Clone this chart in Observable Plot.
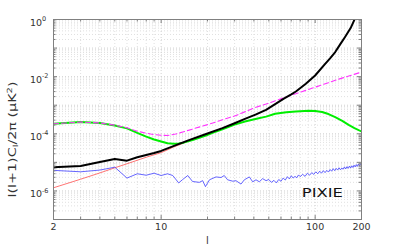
<!DOCTYPE html>
<html><head><meta charset="utf-8">
<script src="https://cdn.jsdelivr.net/npm/d3@7"></script>
<script src="https://cdn.jsdelivr.net/npm/@observablehq/plot@0.6"></script>
<style>body{margin:0;background:#fff}</style>
</head><body><div id="chart"></div>
<script>
// ---- data (log10 of l(l+1)C_l/2pi in uK^2) ----
const blackL   = [2,3,4,5,6,7,8,9,10,12,15,20,25,30,35,41,48,55,63,70,75,87,100,115,125,135,145,156,170,181,190,200];
const blackLog = [-5.17,-5.13,-4.99,-4.88,-4.94,-4.82,-4.74,-4.67,-4.60,-4.43,-4.23,-3.99,-3.80,-3.63,-3.48,-3.33,-3.16,-2.96,-2.76,-2.62,-2.52,-2.25,-1.96,-1.58,-1.36,-1.14,-0.88,-0.62,-0.30,0.02,0.22,0.45];

const greenL   = [2,3,4,5,6,7,8,9,10,11,12,13,14,16,19.5,22,25,30,35,41,48,55,65,75,91,100,111,122,135,150,165,180,200];
const greenLog = [-3.65,-3.59,-3.62,-3.71,-3.81,-3.97,-4.10,-4.20,-4.27,-4.33,-4.35,-4.34,-4.31,-4.22,-4.06,-3.95,-3.84,-3.68,-3.57,-3.48,-3.40,-3.30,-3.25,-3.22,-3.19,-3.20,-3.24,-3.31,-3.42,-3.55,-3.69,-3.80,-3.92];

const magentaL   = [2,3,4,5,6,7,8,9,10,11,12.4,14,16.8,20,25,30,41.3,48,70,100,140,200];
const magentaLog = [-3.65,-3.59,-3.62,-3.70,-3.79,-3.91,-3.98,-4.03,-4.05,-4.06,-4.01,-3.93,-3.80,-3.68,-3.51,-3.38,-3.07,-2.96,-2.65,-2.37,-2.10,-1.84];

const redL   = [2,3,4,5,6,8,10,12,15,20];
const redLog = [-5.89,-5.59,-5.37,-5.19,-5.05,-4.82,-4.66,-4.47,-4.26,-4.00];

const blueL = [2,3,4,5,6,7,8,9,10,11,11.9,13,13.8,14.9,16,17.7,18.6,19.4,20.6,22.7,24.5,25.7,27,29.2,30.6,33,34.7,37.4,39.3,41.3,43.4,45.6,48,
  50,52,54,56,58,60,62,64,66,68,70,72,74,76,78,80,83,86,89,92,95,98,101,104,107,110,113,116,119,122,125,128,131,134,137,140,143,146,149,152,155,158,161,164,167,170,173,176,179,182,185,188,191,194,197,200];
const blueLog = [-5.28,-5.33,-5.27,-5.17,-5.55,-5.40,-5.45,-5.38,-5.46,-5.40,-5.46,-5.72,-5.60,-5.46,-5.67,-5.70,-5.64,-5.85,-5.61,-5.51,-5.53,-5.46,-5.61,-5.66,-5.64,-5.76,-5.61,-5.51,-5.68,-5.61,-5.68,-5.57,-5.64,
  -5.60,-5.70,-5.63,-5.72,-5.60,-5.66,-5.55,-5.62,-5.50,-5.58,-5.47,-5.55,-5.49,-5.54,-5.44,-5.50,-5.42,-5.49,-5.38,-5.45,-5.36,-5.42,-5.33,-5.40,-5.31,-5.38,-5.29,-5.36,-5.28,-5.34,-5.25,-5.31,-5.22,-5.29,-5.21,-5.27,-5.19,-5.26,-5.20,-5.24,-5.16,-5.23,-5.15,-5.21,-5.13,-5.20,-5.12,-5.18,-5.10,-5.16,-5.08,-5.14,-5.06,-5.12,-5.05,-5.09];

// ---- ticks / labels ----
const xLabels = [2,10,100,200];
const xMajor = [10,100];
const xMinor = [2,3,4,5,6,7,8,9,20,30,40,50,60,70,80,90,200];
const decades = [1e-7,1e-6,1e-5,1e-4,1e-3,1e-2,1e-1];
const yMajor = [1e-7,1e-6,1e-5,1e-4,1e-3,1e-2,1e-1,1];
const yMinor = decades.flatMap(d => [2,3,4,5,6,7,8,9].map(m => m*d));
const yLabelVals = [1,1e-2,1e-4,1e-6];
const yLabelExp = ["0","-2","-4","-6"];
const xTitle = "l";
const yTitle = "l(l+1)C_l/2π (μK²)";
const annotText = ["PIXIE"];
const annotL = [82];
const annotV = [8.8e-7];

const rows = (ls, logs) => ls.map((l,i) => ({l, v: Math.pow(10, logs[i])}));

const W = 399, H = 249, mL = 53, mR = 38, mT = 19, mB = 30;
const fw = W - mL - mR, fh = H - mT - mB;
const axisGray = "#808080", gridMinor = "#e0e0e0", gridMajor = "#d2d2d2", txt = "#333";

const svg = Plot.plot({
  width: W, height: H,
  marginLeft: mL, marginRight: mR, marginTop: mT, marginBottom: mB,
  x: {type: "log", domain: [2, 200], axis: null},
  y: {type: "log", domain: [1e-7, 1], axis: null},
  style: {fontFamily: "DejaVu Sans", background: "white", color: txt},
  marks: [
    Plot.ruleX(xMinor, {x: d => d, stroke: gridMinor, strokeDasharray: "1,2"}),
    Plot.ruleY(yMinor, {y: d => d, stroke: gridMinor, strokeDasharray: "1,2"}),
    Plot.ruleX(xMajor, {x: d => d, stroke: gridMajor, strokeDasharray: "1,2"}),
    Plot.ruleY(yMajor, {y: d => d, stroke: gridMajor, strokeDasharray: "1,2"}),
    Plot.line(rows(redL, redLog), {x: "l", y: "v", stroke: "#ff5050", strokeWidth: 0.8, clip: true}),
    Plot.line(rows(blueL, blueLog), {x: "l", y: "v", stroke: "#3f3fff", strokeWidth: 0.8, clip: true}),
    Plot.line(rows(greenL, greenLog), {x: "l", y: "v", stroke: "#00ee00", strokeWidth: 2, clip: true}),
    Plot.line(rows(magentaL, magentaLog), {x: "l", y: "v", stroke: "#ff33ff", strokeWidth: 1.1, strokeDasharray: "5,3", clip: true}),
    Plot.line(rows(blackL, blackLog), {x: "l", y: "v", stroke: "#000", strokeWidth: 2, clip: true}),
    Plot.frame({stroke: axisGray}),
    // inward ticks
    Plot.tickX(xMajor, {x: d => d, insetTop: fh - 4, stroke: axisGray}),
    Plot.tickX(xMajor, {x: d => d, insetBottom: fh - 4, stroke: axisGray}),
    Plot.tickX(xMinor, {x: d => d, insetTop: fh - 2.5, stroke: axisGray}),
    Plot.tickX(xMinor, {x: d => d, insetBottom: fh - 2.5, stroke: axisGray}),
    Plot.tickY(yMajor, {y: d => d, insetRight: fw - 4, stroke: axisGray}),
    Plot.tickY(yMajor, {y: d => d, insetLeft: fw - 4, stroke: axisGray}),
    Plot.tickY(yMinor, {y: d => d, insetRight: fw - 2.5, stroke: axisGray}),
    Plot.tickY(yMinor, {y: d => d, insetLeft: fw - 2.5, stroke: axisGray}),
    // tick labels
    Plot.text(xLabels, {x: d => d, frameAnchor: "bottom", dy: 10, text: d => String(d), fontSize: 9.5, fill: txt}),
    Plot.text(yLabelVals, {y: d => d, frameAnchor: "left", dx: -23.5, dy: 3.5, textAnchor: "start", text: () => "10", fontSize: 9.5, fill: txt}),
    Plot.text(yLabelVals, {y: d => d, frameAnchor: "left", dx: -11.5, dy: -0.5, textAnchor: "start", text: (d, i) => yLabelExp[i], fontSize: 6.5, fill: txt}),
    // titles
    Plot.text([xTitle], {frameAnchor: "bottom", dy: 24, text: d => d, fontSize: 10, fill: txt}),
    Plot.text([yTitle], {frameAnchor: "left", dx: -40.5, dy: 78, rotate: -90, textAnchor: "start", text: d => d, fontSize: 10, fill: txt}),
    Plot.text(annotText, {x: (d, i) => annotL[i], y: (d, i) => annotV[i], text: d => d, textAnchor: "start", fontSize: 12.5, fill: "#111"})
  ]
});

// rich text: subscript / superscript in the y title, widen glyphs like the reference
d3.select(svg).selectAll("text").each(function() {
  const t = this.textContent;
  if (t === yTitle) {
    const el = d3.select(this);
    el.text(null);
    el.append("tspan").text("l(l+1)C");
    el.append("tspan").attr("font-size", 7).attr("dy", 2).text("l");
    el.append("tspan").attr("dy", -2).text("/2π (μK");
    el.append("tspan").attr("font-size", 7).attr("dy", -4).text("2");
    el.append("tspan").attr("dy", 4).text(")");
    el.attr("textLength", 116).attr("lengthAdjust", "spacingAndGlyphs");
  } else if (t === "PIXIE") {
    d3.select(this).attr("textLength", 41).attr("lengthAdjust", "spacingAndGlyphs");
  }
});

document.getElementById("chart").appendChild(svg);
</script>
</body></html>
